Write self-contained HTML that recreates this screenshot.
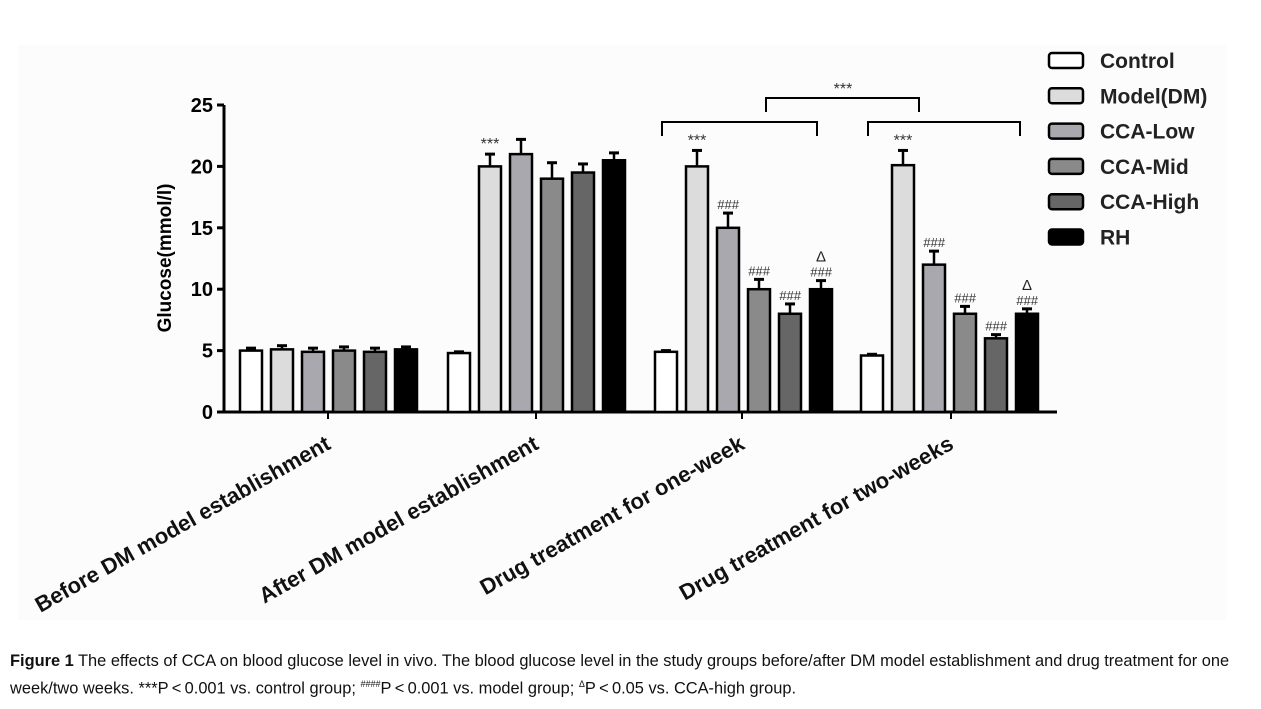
<!DOCTYPE html>
<html><head><meta charset="utf-8"><style>
html,body{margin:0;padding:0;background:#fff;}
svg{display:block;font-family:"Liberation Sans",Arial,sans-serif;}
.cap{position:absolute;left:10px;top:650px;font-family:"Liberation Sans",sans-serif;font-size:16.4px;line-height:23px;color:#111;width:1250px;white-space:nowrap;}
</style></head><body>
<div style="position:relative;width:1261px;height:709px;overflow:hidden">
<svg id="chart" width="1261" height="709">
<rect x="18" y="45" width="1208" height="575" fill="#fcfcfc"/>
</svg>
<div class="cap"><b>Figure 1</b> The effects of CCA on blood glucose level in vivo. The blood glucose level in the study groups before/after DM model establishment and drug treatment for one<br>week/two weeks. ***P&thinsp;&lt;&thinsp;0.001 vs. control group; <sup style="font-size:9px">####</sup>P&thinsp;&lt;&thinsp;0.001 vs. model group; <sup style="font-size:9px">&Delta;</sup>P&thinsp;&lt;&thinsp;0.05 vs. CCA-high group.</div>
</div>
<script>
const categories=["Before DM model establishment","After DM model establishment","Drug treatment for one-week","Drug treatment for two-weeks"];
const seriesNames=["Control","Model(DM)","CCA-Low","CCA-Mid","CCA-High","RH"];
const control=[5,4.8,4.9,4.6];
const model=[5.1,20,20,20.1];
const ccaLow=[4.9,21,15,12];
const ccaMid=[5,19,10,8];
const ccaHigh=[4.9,19.5,8,6];
const rh=[5.1,20.5,10,8];
const errControl=[0.2,0.1,0.1,0.1];
const errModel=[0.3,1,1.3,1.2];
const errLow=[0.3,1.2,1.2,1.1];
const errMid=[0.3,1.3,0.8,0.6];
const errHigh=[0.3,0.7,0.8,0.3];
const errRh=[0.2,0.6,0.7,0.4];
const yTicks=[0,5,10,15,20,25];
const sigModel=["","***","***","***"];
const sigHash=[["","","",""],["","","",""],["","","###","###","###","###"],["","","###","###","###","###"]];
const sigDelta=["","","Δ","Δ"];
const values=[control,model,ccaLow,ccaMid,ccaHigh,rh];
const errs=[errControl,errModel,errLow,errMid,errHigh,errRh];
const fills=["#ffffff","#dcdcdc","#a9a8ae","#8a8a8a","#666666","#000000"];
const svg=document.getElementById('chart');
const NS="http://www.w3.org/2000/svg";
function mk(t,a,p){const e=document.createElementNS(NS,t);for(const k in a)e.setAttribute(k,a[k]);(p||svg).appendChild(e);return e;}
const y0=412,yTop=105,yMax=25;
function Y(v){return y0-(v/yMax)*(y0-yTop);}
const groupStart=[240,448,655,861];
const pitch=[31,31,31,31];
const bw=[22,22,22,22];
const groupTick=[328,536,742,951];
let ax=mk('line',{x1:224,y1:Y(yMax),x2:224,y2:y0+1,stroke:'#000','stroke-width':3});


let xa=mk('line',{x1:222,y1:y0,x2:1057,y2:y0,stroke:'#000','stroke-width':3});


yTicks.forEach(t=>{
 const l=mk('line',{x1:217,y1:Y(t),x2:224,y2:Y(t),stroke:'#000','stroke-width':3});
 
 
 const tx=mk('text',{x:213,y:Y(t)+7,'text-anchor':'end','font-size':20,'font-weight':'bold'});
 tx.textContent=t;
 
 
});
const yt=mk('text',{x:0,y:0,'text-anchor':'middle','font-size':19,'font-weight':'bold',transform:'translate(171,258) rotate(-90)'});
yt.textContent="Glucose(mmol/l)";


categories.forEach((c,g)=>{
 const tk=mk('line',{x1:groupTick[g],y1:y0,x2:groupTick[g],y2:y0+7,stroke:'#000','stroke-width':2});
 
 
 const lb=mk('text',{x:0,y:0,'text-anchor':'end','font-size':22,'font-weight':'bold',fill:'#111',transform:`translate(${groupTick[g]+4},${y0+36}) rotate(-29.5)`});
 lb.textContent=c;
 
 
 values.forEach((arr,s)=>{
  const x=groupStart[g]+s*pitch[g],w=bw[g],v=arr[g],e=errs[s][g];
  const cx=x+w/2;
  const el=mk('line',{x1:cx,y1:Y(v),x2:cx,y2:Y(v+e),stroke:'#000','stroke-width':2.5});
  
  
  const cap=mk('line',{x1:cx-5,y1:Y(v+e),x2:cx+5,y2:Y(v+e),stroke:'#000','stroke-width':3});
  
  
  const r=mk('rect',{x:x,y:Y(v),width:w,height:y0-Y(v),fill:fills[s],stroke:'#000','stroke-width':2.5});
  
  
  let top=Y(v+e)-4;
  if(s==1&&sigModel[g]){const t=mk('text',{x:cx,y:top-1,'text-anchor':'middle','font-size':16,fill:'#333'});t.textContent=sigModel[g];
   
   }
  const h=sigHash[g][s];
  if(h){const t=mk('text',{x:cx,y:top,'text-anchor':'middle','font-size':13,'font-style':'italic',fill:'#333'});t.textContent=h;
   
   
   if(s==5&&sigDelta[g]){const d=mk('text',{x:cx,y:top-15,'text-anchor':'middle','font-size':15,fill:'#222'});d.textContent=sigDelta[g];
    
    }}
 });
});
function bracket(x1,x2,yy,h,name){const p=mk('path',{d:`M${x1},${yy+h}V${yy}H${x2}V${yy+h}`,fill:'none',stroke:'#000','stroke-width':2});
 
 }
bracket(662,817,122,14,'bracket-one-week');
bracket(868,1020,122,14,'bracket-two-weeks');
bracket(766,919,98,14,'bracket-comparison');
const st=mk('text',{x:843,y:94,'text-anchor':'middle','font-size':16,fill:'#333'});st.textContent="***";


seriesNames.forEach((n,i)=>{
 const yy=60+i*35.3;
 const r=mk('rect',{x:1049,y:yy-7,width:34,height:15,rx:3,fill:fills[i],stroke:'#000','stroke-width':2.5});
 
 
 const t=mk('text',{x:1100,y:yy+8,'font-size':21,'font-weight':'bold',fill:'#222'});t.textContent=n;
 
 
});
</script>
</body></html>
